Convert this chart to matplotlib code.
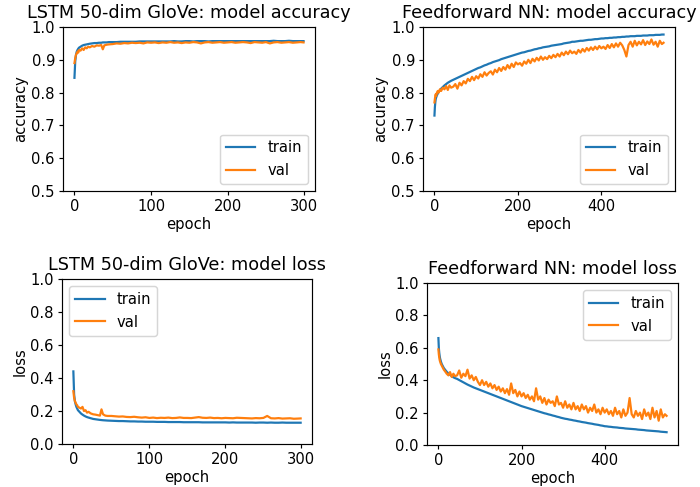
import matplotlib
matplotlib.use("Agg")
import matplotlib.pyplot as plt
from matplotlib.ticker import MultipleLocator

# ---- LSTM 50-dim GloVe history ----
lstm_epochs = [0, 1, 2, 3, 4, 5, 6, 8, 10, 12, 14, 16, 18, 20, 23, 26, 29, 32, 35, 37, 39, 42, 45] \
    + list(range(50, 300, 5)) + [299]

lstm_acc_train = [0.845, 0.895, 0.915, 0.925, 0.93, 0.934, 0.937, 0.94, 0.943, 0.945, 0.946, 0.947,
                  0.948, 0.949, 0.95, 0.951, 0.951, 0.952, 0.952, 0.953, 0.953, 0.953, 0.954,
                  0.954, 0.954, 0.955, 0.955, 0.955, 0.955, 0.955, 0.956, 0.956, 0.956,
                  0.956, 0.956, 0.956, 0.956, 0.956, 0.956, 0.957, 0.956, 0.956, 0.957,
                  0.957, 0.956, 0.957, 0.957, 0.957, 0.956, 0.957, 0.957, 0.957, 0.957,
                  0.957, 0.957, 0.957, 0.957, 0.957, 0.957, 0.957, 0.957, 0.957, 0.957,
                  0.957, 0.957, 0.958, 0.957, 0.957, 0.957, 0.958, 0.957, 0.957, 0.957,
                  0.957]
lstm_acc_val = [0.89, 0.905, 0.915, 0.92, 0.925, 0.922, 0.93, 0.928, 0.935, 0.93, 0.938, 0.935,
                0.94, 0.938, 0.942, 0.94, 0.944, 0.943, 0.945, 0.932, 0.944, 0.946, 0.947,
                0.948, 0.95, 0.949, 0.951, 0.95, 0.952, 0.951, 0.952, 0.95, 0.953,
                0.952, 0.953, 0.951, 0.953, 0.952, 0.954, 0.952, 0.953, 0.951, 0.953,
                0.952, 0.954, 0.953, 0.95, 0.953, 0.954, 0.952, 0.953, 0.954, 0.952,
                0.953, 0.954, 0.952, 0.953, 0.954, 0.953, 0.951, 0.954, 0.953, 0.952,
                0.954, 0.95, 0.953, 0.954, 0.952, 0.953, 0.954, 0.952, 0.953, 0.954,
                0.953]
lstm_loss_train = [0.44, 0.3, 0.26, 0.24, 0.225, 0.215, 0.205, 0.195, 0.185, 0.178, 0.172, 0.167,
                   0.163, 0.16, 0.156, 0.152, 0.15, 0.148, 0.146, 0.145, 0.144, 0.143, 0.142,
                   0.141, 0.14, 0.139, 0.139, 0.138, 0.137, 0.137, 0.136, 0.136, 0.135,
                   0.135, 0.135, 0.134, 0.134, 0.134, 0.133, 0.133, 0.133, 0.133, 0.132,
                   0.132, 0.132, 0.132, 0.132, 0.131, 0.131, 0.131, 0.131, 0.131, 0.131,
                   0.131, 0.130, 0.131, 0.130, 0.130, 0.130, 0.130, 0.130, 0.129, 0.130,
                   0.130, 0.129, 0.130, 0.129, 0.129, 0.130, 0.129, 0.129, 0.129, 0.129,
                   0.129]
lstm_loss_val = [0.32, 0.28, 0.26, 0.25, 0.24, 0.235, 0.225, 0.22, 0.215, 0.225, 0.2, 0.205,
                 0.19, 0.195, 0.185, 0.18, 0.178, 0.175, 0.172, 0.21, 0.18, 0.172, 0.17,
                 0.17, 0.168, 0.166, 0.167, 0.164, 0.163, 0.165, 0.162, 0.16, 0.162,
                 0.158, 0.16, 0.157, 0.159, 0.158, 0.16, 0.157, 0.158, 0.161, 0.158,
                 0.158, 0.157, 0.16, 0.163, 0.159, 0.158, 0.16, 0.157, 0.158, 0.156,
                 0.158, 0.157, 0.156, 0.159, 0.158, 0.157, 0.156, 0.155, 0.157, 0.156,
                 0.158, 0.17, 0.156, 0.155, 0.157, 0.154, 0.155, 0.156, 0.153, 0.154,
                 0.155]

# ---- Feedforward NN history ----
ff_epochs = [0, 1, 2, 3, 4, 6, 8, 10, 13, 16, 20, 24, 28, 32, 36, 40] \
    + list(range(45, 550, 5)) + [549]

ff_acc_train = [0.73, 0.755, 0.77, 0.78, 0.785, 0.792, 0.797, 0.802, 0.807, 0.812, 0.817, 0.822,
                0.826, 0.83, 0.833, 0.836,
                0.839, 0.842, 0.845, 0.848, 0.851, 0.854, 0.857, 0.860,
                0.863, 0.866, 0.869, 0.872, 0.875, 0.877, 0.880, 0.883, 0.885, 0.888,
                0.890, 0.893, 0.895, 0.897, 0.899, 0.902, 0.904, 0.906, 0.908, 0.910, 0.912, 0.914, 0.916, 0.918,
                0.920, 0.922, 0.923, 0.925, 0.927, 0.928, 0.930, 0.932, 0.933, 0.935, 0.936, 0.938,
                0.939, 0.940, 0.941, 0.943, 0.944, 0.945, 0.946, 0.947, 0.948, 0.950, 0.951, 0.952, 0.953, 0.955,
                0.955, 0.956, 0.957, 0.958, 0.958, 0.959, 0.960, 0.961, 0.961, 0.962, 0.963, 0.963, 0.964, 0.965,
                0.965, 0.966, 0.966, 0.967, 0.967, 0.968, 0.968, 0.969, 0.969, 0.970, 0.970, 0.971,
                0.971, 0.972, 0.972, 0.972, 0.973, 0.973, 0.973, 0.974, 0.974, 0.974, 0.975, 0.975,
                0.975, 0.976, 0.976, 0.976, 0.977,
                0.977]
ff_acc_val = [0.77, 0.78, 0.79, 0.795, 0.79, 0.8, 0.805, 0.8, 0.81, 0.805, 0.815, 0.81,
              0.82, 0.808, 0.822, 0.815,
              0.818, 0.826, 0.812, 0.83, 0.822, 0.835, 0.828, 0.842,
              0.835, 0.848, 0.838, 0.85, 0.843, 0.856, 0.848, 0.862, 0.852, 0.86,
              0.865, 0.855, 0.87, 0.862, 0.875, 0.866, 0.878, 0.87, 0.884, 0.874, 0.888, 0.878, 0.892, 0.886,
              0.89, 0.882, 0.895, 0.888, 0.9, 0.89, 0.903, 0.895, 0.906, 0.898, 0.91, 0.9,
              0.908, 0.902, 0.912, 0.905, 0.915, 0.908, 0.918, 0.91, 0.922, 0.914, 0.925, 0.917, 0.928, 0.92,
              0.925, 0.918, 0.93, 0.922, 0.933, 0.925, 0.936, 0.928, 0.938, 0.93, 0.94, 0.932, 0.942, 0.935,
              0.94, 0.933, 0.945, 0.936, 0.948, 0.938, 0.95, 0.94, 0.952, 0.944, 0.93, 0.91,
              0.945, 0.955, 0.94, 0.958, 0.944, 0.955, 0.947, 0.96, 0.945, 0.956, 0.948, 0.962,
              0.946, 0.955, 0.94, 0.958, 0.948,
              0.952]
ff_loss_train = [0.66, 0.6, 0.57, 0.55, 0.535, 0.515, 0.5, 0.49, 0.475, 0.465, 0.452, 0.442,
                 0.433, 0.425, 0.418, 0.413,
                 0.408, 0.401, 0.394, 0.387, 0.38, 0.373, 0.367, 0.361, 0.355, 0.35, 0.345, 0.34,
                 0.335, 0.33, 0.325, 0.32, 0.315, 0.31, 0.305, 0.3, 0.295, 0.29,
                 0.285, 0.28, 0.275, 0.27, 0.265, 0.26, 0.255, 0.25, 0.245, 0.24,
                 0.236, 0.232, 0.228, 0.224, 0.22, 0.216, 0.212, 0.208, 0.204, 0.2,
                 0.196, 0.193, 0.189, 0.186, 0.182, 0.179, 0.175, 0.172, 0.168, 0.165,
                 0.162, 0.16, 0.157, 0.155, 0.152, 0.15, 0.147, 0.145, 0.142, 0.14,
                 0.138, 0.135, 0.133, 0.131, 0.128, 0.126, 0.124, 0.121, 0.119, 0.116,
                 0.115, 0.113, 0.112, 0.11, 0.109, 0.108, 0.106, 0.105, 0.104, 0.102, 0.101, 0.1,
                 0.099, 0.098, 0.097, 0.095, 0.094, 0.093, 0.092, 0.09,
                 0.089, 0.088, 0.087, 0.086, 0.085, 0.084, 0.082, 0.081, 0.08,
                 0.079]
ff_loss_val = [0.59, 0.56, 0.54, 0.525, 0.515, 0.5, 0.49, 0.48, 0.465, 0.455, 0.44, 0.43,
               0.45, 0.42, 0.44, 0.425,
               0.43, 0.46, 0.415, 0.44, 0.425, 0.465, 0.41, 0.43, 0.4, 0.42, 0.39, 0.37,
               0.4, 0.37, 0.39, 0.36, 0.38, 0.35, 0.37, 0.34, 0.36, 0.33,
               0.35, 0.32, 0.345, 0.31, 0.38, 0.32, 0.34, 0.3, 0.33, 0.3,
               0.32, 0.29, 0.31, 0.28, 0.3, 0.27, 0.35, 0.28, 0.3, 0.26,
               0.29, 0.25, 0.28, 0.26, 0.27, 0.24, 0.3, 0.25, 0.26, 0.23,
               0.27, 0.23, 0.25, 0.22, 0.26, 0.22, 0.24, 0.21, 0.25, 0.22,
               0.24, 0.2, 0.23, 0.21, 0.25, 0.2, 0.22, 0.19, 0.23, 0.2,
               0.22, 0.19, 0.21, 0.18, 0.23, 0.19, 0.21, 0.17, 0.22, 0.18, 0.2, 0.29,
               0.19, 0.17, 0.21, 0.18, 0.2, 0.16, 0.22, 0.18,
               0.2, 0.16, 0.23, 0.17, 0.21, 0.15, 0.22, 0.17, 0.19,
               0.18]

panels = [
    # (rect in figure pixels: left, top, right, bottom), title, ylabel, epochs, train, val,
    # legend loc, ylim, x tick step
    ((63, 27, 315, 191), "LSTM 50-dim GloVe: model accuracy", "accuracy",
     lstm_epochs, lstm_acc_train, lstm_acc_val, "lower right", (0.5, 1.0), 100),
    ((423, 27, 675, 191), "Feedforward NN: model accuracy", "accuracy",
     ff_epochs, ff_acc_train, ff_acc_val, "lower right", (0.5, 1.0), 200),
    ((62, 279, 312, 444), "LSTM 50-dim GloVe: model loss", "loss",
     lstm_epochs, lstm_loss_train, lstm_loss_val, "upper left", (0.0, 1.0), 100),
    ((427, 283, 678, 445), "Feedforward NN: model loss", "loss",
     ff_epochs, ff_loss_train, ff_loss_val, "upper right", (0.0, 1.0), 200),
]

plt.rcParams["xtick.major.pad"] = 2.5
plt.rcParams["ytick.major.pad"] = 2.5
plt.rcParams["xtick.major.size"] = 3
plt.rcParams["ytick.major.size"] = 3
plt.rcParams["axes.labelpad"] = 2

W, H, DPI = 700, 487, 106
fig = plt.figure(figsize=(W / DPI, H / DPI), dpi=DPI)

for (l, t, r, b), title, ylab, ep, tr, va, loc, ylim, xstep in panels:
    ax = fig.add_axes([l / W, 1 - b / H, (r - l) / W, (b - t) / H])
    ax.plot(ep, tr, label="train")
    ax.plot(ep, va, label="val")
    ax.set_ylim(*ylim)
    ax.xaxis.set_major_locator(MultipleLocator(xstep))
    ax.set_title(title)
    ax.set_xlabel("epoch")
    ax.set_ylabel(ylab)
    ax.legend(loc=loc)

fig.savefig("out.png", dpi=DPI)
